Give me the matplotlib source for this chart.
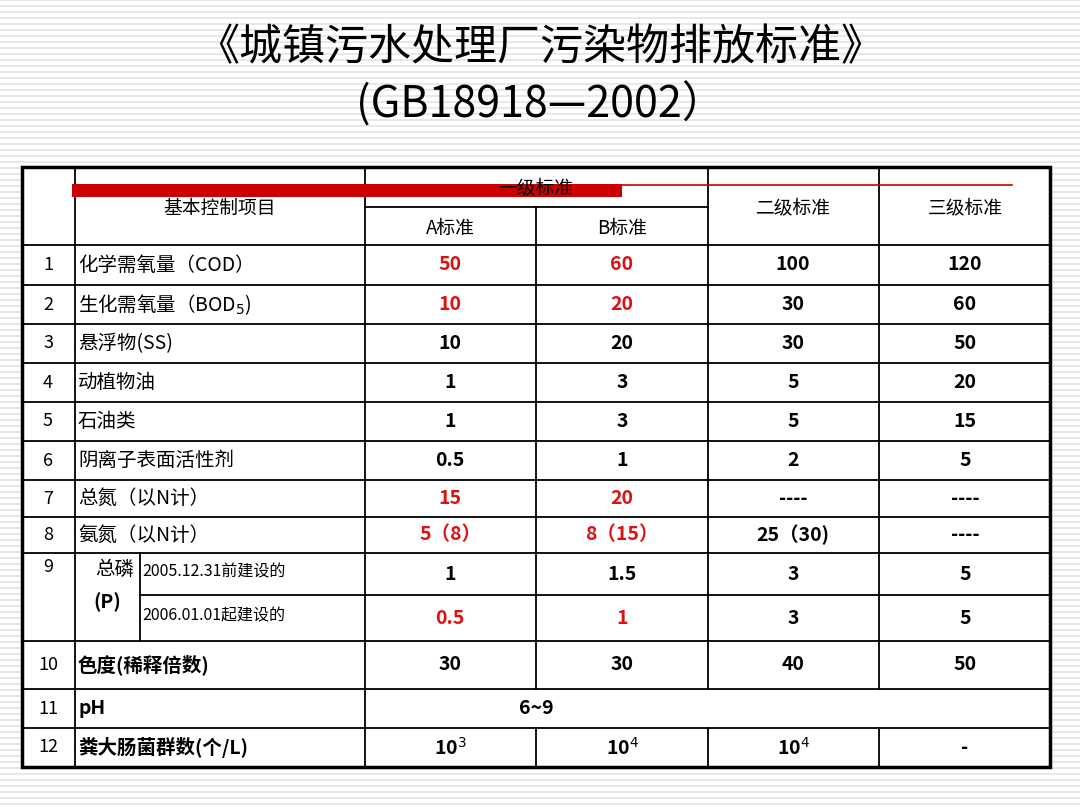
import matplotlib
matplotlib.use("Agg")
import matplotlib.pyplot as plt

plt.rcParams['font.family'] = ['Noto Sans CJK SC', 'DejaVu Sans']

nums = ["1","2","3","4","5","6","7","8","9","","10","11","12"]
items = ["化学需氧量（COD）","生化需氧量（BOD$_5$)","悬浮物(SS)","动植物油","石油类","阴离子表面活性剂",
         "总氮（以N计）","氨氮（以N计）","2005.12.31前建设的","2006.01.01起建设的","色度(稀释倍数)","pH","粪大肠菌群数(个/L)"]
colA = ["50","10","10","1","1","0.5","15","5（8）","1","0.5","30","6~9","10$^3$"]
colB = ["60","20","20","3","3","1","20","8（15）","1.5","1","30","","10$^4$"]
col2 = ["100","30","30","5","5","2","----","25（30)","3","3","40","","10$^4$"]
col3 = ["120","60","50","20","15","5","----","----","5","5","50","","-"]
redA = [1,1,0,0,0,0,1,1,0,1,0,0,0]
redB = [1,1,0,0,0,0,1,1,0,1,0,0,0]

fig = plt.figure(figsize=(10.8, 8.1), dpi=100)
ax = fig.add_axes([0, 0, 1, 1])
ax.set_xlim(0, 1080); ax.set_ylim(810, 0); ax.axis('off')
for y in range(0, 810, 6):
    ax.axhline(y, color='#e4e4e4', lw=1.2, zorder=0)

ax.text(540, 48, "《城镇污水处理厂污染物排放标准》", ha='center', va='center', fontsize=31)
ax.text(540, 105, "(GB18918—2002）", ha='center', va='center', fontsize=31)

L, R, T, B = 22, 1050, 167, 767
ax.add_patch(plt.Rectangle((L, T), R-L, B-T, fc='white', ec='none', zorder=1))
xs = [22, 75, 365, 536, 708, 879, 1050]
rows = [245, 285, 324, 363, 402, 441, 480, 517, 553, 595, 641, 689, 728, 767]
lw = 1.3
def hl(y, x0, x1): ax.plot([x0, x1], [y, y], color='k', lw=lw, zorder=3)
def vl(x, y0, y1): ax.plot([x, x], [y0, y1], color='k', lw=lw, zorder=3)
ax.add_patch(plt.Rectangle((L, T), R-L, B-T, fc='none', ec='k', lw=2.5, zorder=4))
for y in rows[:-1]:
    if y == 595:
        hl(y, 140, R)
    elif y == 553:
        hl(y, L, R)
    else:
        hl(y, L, R)
hl(207, 365, 708)
for x in xs[1:-1]:
    if x in (536, 708, 879):
        vl(x, T if x != 536 else 207, 689); vl(x, 728, B) if True else None
    else:
        vl(x, T, B)
vl(140, 553, 641)
# red bar
ax.add_patch(plt.Rectangle((72, 184), 550, 13, fc='#cc0000', ec='none', zorder=5))
ax.plot([622, 1012], [185, 185], color='#cc0000', lw=1.2, zorder=5)

fs = 14
ax.text(220, 208, "基本控制项目", ha='center', va='center', fontsize=13.5, zorder=6)
ax.text(536, 188, "一级标准", ha='center', va='center', fontsize=13.5, zorder=6)
ax.text(450, 228, "A标准", ha='center', va='center', fontsize=13.5, zorder=6)
ax.text(622, 228, "B标准", ha='center', va='center', fontsize=13.5, zorder=6)
ax.text(793, 208, "二级标准", ha='center', va='center', fontsize=13.5, zorder=6)
ax.text(965, 208, "三级标准", ha='center', va='center', fontsize=13.5, zorder=6)

centers = [(rows[i] + rows[i+1]) / 2 for i in range(len(rows)-1)]
for i in range(13):
    yc = centers[i]
    if nums[i]:
        ny = 597 if nums[i] == "9" else yc
        ax.text(48, ny - 30 if nums[i]=="9" else yc, nums[i], ha='center', va='center', fontsize=13, zorder=6)
    if i in (8, 9):
        ax.text(142, yc - 2, items[i], ha='left', va='center', fontsize=11.5, zorder=6)
    else:
        ax.text(78, yc, items[i], ha='left', va='center', fontsize=14, zorder=6,
                fontweight='bold' if i in (10, 11, 12) else 'normal')
    if i == 11:
        ax.text(536, yc, colA[i], ha='center', va='center', fontsize=fs, fontweight='bold', zorder=6)
        continue
    for x, v, red in [(450, colA[i], redA[i]), (622, colB[i], redB[i]), (793, col2[i], 0), (965, col3[i], 0)]:
        ax.text(x, yc, v, ha='center', va='center', fontsize=fs, fontweight='bold',
                color='#dd1111' if red else 'black', zorder=6)
ax.text(95, 569, "总磷", ha='left', va='center', fontsize=14, zorder=6)
ax.text(107, 602, "(P)", ha='center', va='center', fontsize=14, fontweight='bold', zorder=6)
# hide line through pH row interior
fig.savefig("out.png", dpi=100)
